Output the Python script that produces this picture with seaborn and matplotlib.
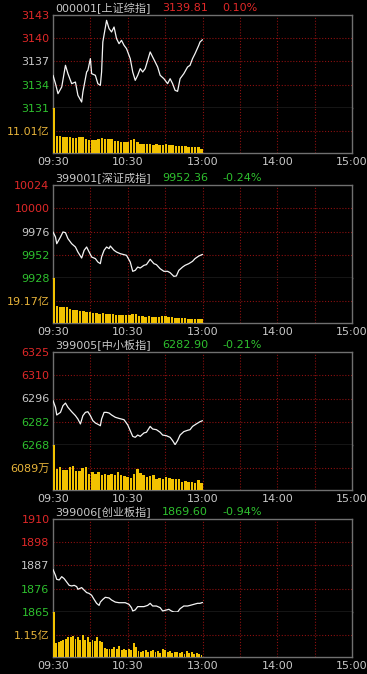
import numpy as np
import pandas as pd
import matplotlib
matplotlib.use("Agg")
import matplotlib.pyplot as plt
import seaborn as sns

sns.set_style("dark")
plt.rcParams['font.family'] = ['DejaVu Sans', 'Noto Sans CJK SC']

# ---------------- data ----------------
codes = ["000001", "399001", "399005", "399006"]
names = ["上证综指", "深证成指", "中小板指", "创业板指"]
last_prices = ["3139.81", "9952.36", "6282.90", "1869.60"]
changes = ["0.10%", "-0.24%", "-0.21%", "-0.94%"]
up_flags = [True, False, False, False]

price_tick_labels = [
    ["3131", "3134", "3137", "3140", "3143"],
    ["9928", "9952", "9976", "10000", "10024"],
    ["6268", "6282", "6296", "6310", "6325"],
    ["1865", "1876", "1887", "1898", "1910"],
]
price_ranges = [(3131, 3143), (9928, 10024), (6268, 6325), (1865, 1910)]

vol_labels = ["11.01亿", "19.17亿", "6089万", "1.15亿"]
vol_mid = [11.01, 19.17, 6089, 1.15]

time_labels = ["09:30", "10:30", "13:00", "14:00", "15:00"]
time_ticks = [0, 60, 120, 180, 240]

# minutes since 09:30 and index values
t1 = [0, 2, 4, 7, 10, 12, 15, 18, 20, 23, 24, 27, 28, 30, 31, 34, 36, 38, 39, 40, 43, 45, 47, 49,
      51, 53, 55, 57, 59, 62, 64, 66, 68, 70, 72, 74, 76, 78, 80, 82, 84, 86, 89, 92, 94, 96, 98,
      100, 102, 105, 108, 110, 112, 114, 117, 118, 120]
p1 = [3135.22, 3134.14, 3132.85, 3133.71, 3136.51, 3135.43, 3134.14, 3134.35, 3132.63, 3131.77,
      3133.06, 3135.65, 3135.86, 3137.37, 3135.43, 3135.22, 3134.14, 3133.92, 3135.65, 3139.52,
      3142.31, 3141.24, 3140.81, 3141.45, 3139.95, 3139.30, 3139.73, 3139.09, 3138.66, 3137.37,
      3135.65, 3134.57, 3135.22, 3136.08, 3135.65, 3136.08, 3137.15, 3138.23, 3137.58, 3136.94,
      3136.29, 3135.22, 3134.78, 3134.14, 3134.78, 3134.14, 3133.28, 3133.15, 3134.78, 3135.43,
      3136.29, 3136.51, 3137.37, 3138.01, 3139.09, 3139.52, 3139.81]

t2 = [0, 2, 3, 6, 8, 10, 12, 15, 18, 20, 23, 25, 27, 29, 31, 34, 36, 38, 39, 41, 43, 45, 46, 49,
      51, 54, 57, 59, 62, 64, 66, 68, 70, 73, 75, 78, 81, 83, 86, 89, 92, 94, 97, 99, 101, 104,
      106, 109, 112, 114, 117, 120]
p2 = [9975.5, 9970.3, 9963.4, 9970.3, 9975.5, 9974.8, 9968.6, 9963.4, 9960.0, 9954.8, 9948.6,
      9956.6, 9960.0, 9954.8, 9949.7, 9948.0, 9944.5, 9942.8, 9949.7, 9956.6, 9960.0, 9958.3,
      9961.0, 9956.6, 9954.8, 9953.1, 9952.1, 9951.4, 9944.5, 9934.9, 9935.9, 9939.3, 9938.3,
      9941.1, 9941.8, 9947.3, 9942.8, 9941.8, 9937.6, 9934.9, 9934.9, 9933.5, 9929.7, 9930.1,
      9935.9, 9939.3, 9941.1, 9942.8, 9945.2, 9948.0, 9950.7, 9952.36]

t3 = [0, 2, 3, 6, 8, 10, 12, 15, 18, 20, 22, 24, 26, 28, 30, 32, 34, 37, 38, 39, 41, 43, 45, 47,
      50, 53, 55, 57, 60, 62, 64, 66, 68, 70, 73, 75, 78, 80, 83, 86, 88, 91, 94, 96, 98, 100,
      102, 105, 108, 110, 112, 115, 118, 120]
p3 = [6295.2, 6291.1, 6286.4, 6288.0, 6292.1, 6293.7, 6291.1, 6288.4, 6286.0, 6283.9, 6280.9,
      6286.0, 6288.0, 6288.4, 6286.0, 6282.9, 6281.5, 6280.3, 6279.8, 6283.9, 6288.0, 6288.0,
      6287.6, 6286.4, 6285.0, 6284.3, 6283.9, 6283.5, 6280.3, 6276.8, 6273.3, 6272.7, 6274.1,
      6273.3, 6275.4, 6275.8, 6279.4, 6277.8, 6277.4, 6275.8, 6274.1, 6273.7, 6272.7, 6270.7,
      6268.2, 6270.7, 6274.1, 6276.2, 6277.0, 6277.4, 6279.4, 6280.9, 6282.3, 6282.9]

t4 = [0, 2, 3, 5, 7, 9, 11, 13, 15, 17, 19, 20, 23, 25, 27, 29, 31, 33, 35, 37, 38, 40, 42, 45,
      47, 50, 53, 55, 58, 61, 63, 64, 66, 68, 71, 73, 76, 78, 80, 83, 86, 88, 90, 93, 95, 97, 100,
      102, 105, 108, 110, 113, 116, 118, 120]
p4 = [1885.6, 1882.7, 1880.8, 1880.5, 1882.1, 1881.1, 1879.5, 1877.9, 1877.6, 1877.9, 1877.3,
      1876.0, 1876.8, 1875.6, 1874.4, 1874.0, 1873.1, 1871.1, 1869.2, 1868.2, 1869.8, 1871.1,
      1872.1, 1871.8, 1870.8, 1869.8, 1869.5, 1869.5, 1869.5, 1868.7, 1867.1, 1865.5, 1866.0,
      1867.6, 1867.6, 1867.6, 1868.2, 1869.2, 1867.9, 1867.9, 1867.1, 1865.5, 1865.8, 1866.3,
      1865.5, 1865.0, 1865.0, 1866.6, 1867.9, 1867.9, 1868.2, 1868.7, 1869.2, 1869.2, 1869.6]

v1 = [22.0, 8.5, 8.3, 8.0, 7.8, 7.7, 7.5, 7.5, 7.7, 7.7, 6.9, 6.5, 6.4, 6.5, 6.9, 7.5, 6.9, 6.7,
      6.7, 5.9, 5.9, 5.5, 5.2, 5.2, 6.5, 6.9, 5.5, 4.6, 4.2, 4.6, 4.4, 4.1, 4.2, 4.1, 3.9, 4.2,
      3.9, 3.8, 3.6, 3.6, 3.4, 3.3, 2.9, 2.9, 2.8, 2.8, 2.0]
v2 = [38.3, 14.2, 13.6, 13.3, 13.3, 11.9, 11.4, 10.8, 10.2, 9.9, 9.1, 9.1, 8.5, 8.5, 8.0, 8.2,
      8.0, 7.7, 7.7, 7.1, 6.8, 6.8, 6.5, 6.8, 8.0, 8.0, 5.7, 5.7, 5.1, 5.7, 5.4, 5.1, 5.1, 5.7,
      5.7, 5.1, 5.1, 4.5, 4.5, 4.0, 4.0, 3.7, 3.4, 3.7, 3.7, 3.4]
v3 = [12100, 5778, 6223, 5512, 5334, 6223, 6401, 5156, 5067, 5956, 6223, 4445, 4890, 4267, 4890,
      4001, 4445, 4178, 4445, 4001, 4890, 4001, 3734, 3556, 3378, 4445, 5778, 4623, 4001, 3556,
      3734, 4001, 3112, 3378, 2845, 3556, 3378, 3112, 2845, 2845, 2223, 2489, 2223, 2223, 1956,
      2667, 1956]
v4 = [2.28, 0.72, 0.77, 0.82, 0.86, 0.93, 1.03, 1.00, 1.06, 0.94, 1.03, 0.89, 1.12, 0.89, 1.03,
      0.77, 0.86, 0.82, 1.03, 0.82, 0.77, 0.48, 0.43, 0.43, 0.43, 0.51, 0.43, 0.55, 0.38, 0.43,
      0.34, 0.43, 0.38, 0.72, 0.51, 0.31, 0.26, 0.31, 0.34, 0.26, 0.31, 0.34, 0.26, 0.31, 0.21,
      0.43, 0.34, 0.26, 0.31, 0.21, 0.26, 0.26, 0.21, 0.26, 0.17, 0.31, 0.21, 0.26, 0.17, 0.21,
      0.17, 0.09]

times = [t1, t2, t3, t4]
prices = [p1, p2, p3, p4]
volumes = [v1, v2, v3, v4]

# ---------------- style ----------------
W, H = 367, 674
BG = "#000000"
FRAME = "#707070"
GRID = "#8c1010"
RED = "#e02828"
GREEN = "#2ec02e"
GREY_TXT = "#c8c8c8"
VOL_TXT = "#e8b43a"
BAR = "#f2c200"
FS = 8

fig = plt.figure(figsize=(W / 100, H / 100), dpi=100, facecolor=BG)


def rect(left, top, w, h):
    return [left / W, 1 - (top + h) / H, w / W, h / H]


LEFT, PW = 53, 299
tops = [15, 185, 352, 519]
PH, VH = 93, 45
grid_x = [30, 60, 90, 120, 150, 180, 210]
DOT = (0, (1, 1.6))

for i in range(4):
    top = tops[i]
    axp = fig.add_axes(rect(LEFT, top, PW, PH))
    axv = fig.add_axes(rect(LEFT, top + PH, PW, VH))
    for ax in (axp, axv):
        ax.set_facecolor(BG)
        ax.grid(False)
        for s in ax.spines.values():
            s.set_color(FRAME)
            s.set_linewidth(1.0)
        for gx in grid_x:
            ax.axvline(gx, color=GRID, lw=0.8, ls=DOT, zorder=0)
    axv.spines['top'].set_visible(False)

    lo, hi = price_ranges[i]
    ticks = np.linspace(lo, hi, 5)
    for yv in ticks[1:4]:
        axp.axhline(yv, color=GRID, lw=0.8, ls=DOT, zorder=0)

    df = pd.DataFrame({"t": times[i], "p": prices[i]})
    sns.lineplot(data=df, x="t", y="p", ax=axp, color="#f4f4f4", lw=0.9, zorder=3)
    axp.set_xlim(0, 240)
    axp.set_ylim(lo, hi)
    axp.set_xticks([])
    axp.set_yticks(ticks)
    axp.set_yticklabels(price_tick_labels[i])
    axp.tick_params(axis='y', length=0, pad=2.5, labelsize=FS)
    cols = [GREEN, GREEN, GREY_TXT, RED, RED]
    for lab, c in zip(axp.get_yticklabels(), cols):
        lab.set_color(c)
    axp.set_xlabel("")
    axp.set_ylabel("")

    # volume
    vol = volumes[i]
    vpos = np.linspace(0.6, 119.2, len(vol))
    vdf = pd.DataFrame({"t": vpos, "v": vol})
    sns.barplot(data=vdf, x="t", y="v", ax=axv, native_scale=True, color=BAR,
                saturation=1, errorbar=None, width=0.78, linewidth=0,
                edgecolor=BAR, zorder=3)
    vtop = 2 * vol_mid[i]
    axv.axhline(vol_mid[i], color=GRID, lw=0.8, ls=DOT, zorder=0)
    axv.set_xlim(0, 240)
    axv.set_ylim(0, vtop)
    axv.set_yticks([vol_mid[i]])
    axv.set_yticklabels([vol_labels[i]])
    axv.tick_params(axis='y', length=0, pad=2.5, labelsize=FS, labelcolor=VOL_TXT)
    axv.set_xticks(time_ticks)
    axv.set_xticklabels(time_labels)
    axv.tick_params(axis='x', length=0, pad=3, labelsize=FS, labelcolor=GREY_TXT)
    axv.set_xlabel("")
    axv.set_ylabel("")

    # title line
    ty = 1 - (top - 7) / H
    vc = RED if up_flags[i] else GREEN
    fig.text(55 / W, ty, f"{codes[i]}[{names[i]}]", color=GREY_TXT, fontsize=FS,
             ha='left', va='center')
    fig.text(162 / W, ty, last_prices[i], color=vc, fontsize=FS, ha='left', va='center')
    fig.text(222 / W, ty, changes[i], color=vc, fontsize=FS, ha='left', va='center')

fig.savefig("out.png", dpi=100, facecolor=BG)
